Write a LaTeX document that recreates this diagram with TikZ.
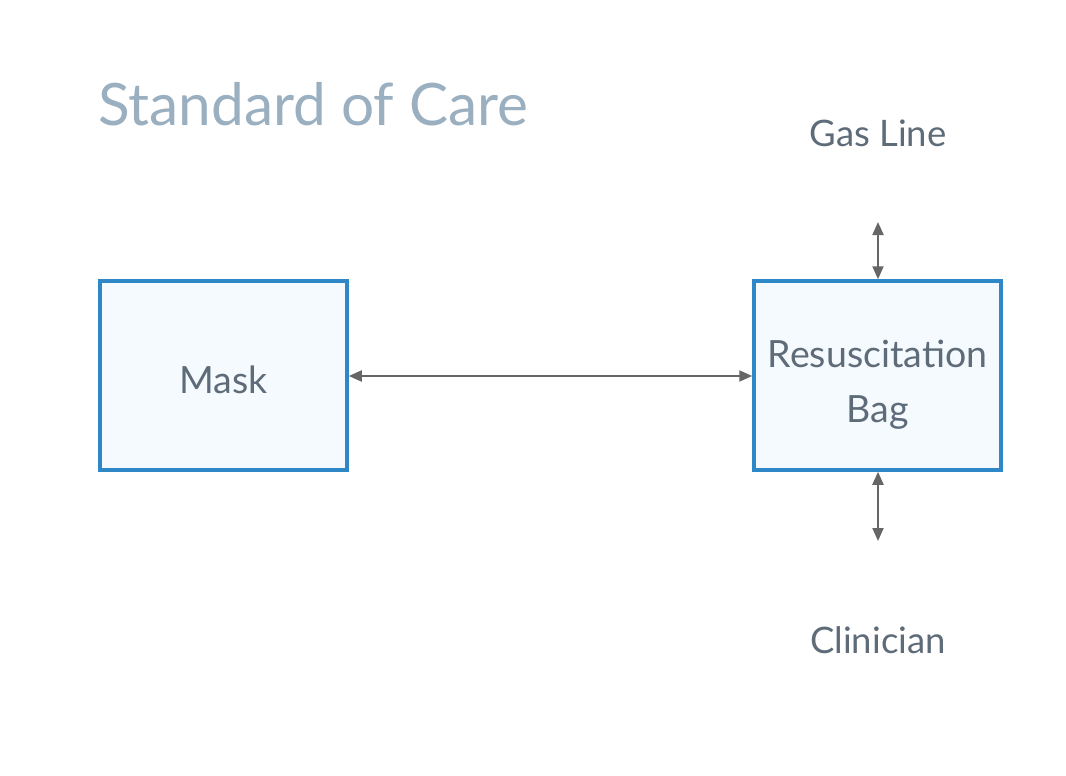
\documentclass[tikz,border=0pt]{standalone}
\usepackage{fontspec}
\setmainfont{Lato}
\usetikzlibrary{arrows.meta}
\definecolor{boxblue}{HTML}{2E88C8}
\definecolor{boxfill}{HTML}{F5FAFF}
\definecolor{txt}{HTML}{5E6B78}
\definecolor{ttl}{HTML}{9AAFC0}
\definecolor{arr}{HTML}{666666}
\tikzset{
  blk/.style={draw=boxblue, line width=3.5pt, fill=boxfill, minimum width=247pt, minimum height=189pt, inner sep=0pt, text=txt, font=\fontsize{37.5}{55}\selectfont, align=center},
  lbl/.style={text=txt, font=\fontsize{36.5}{40}\selectfont, inner sep=0pt},
  conn/.style={draw=arr, line width=2pt, {Triangle[length=13pt,width=11pt]}-{Triangle[length=13pt,width=11pt]}}
}
\begin{document}
\begin{tikzpicture}[x=1pt,y=-1pt]
\useasboundingbox (0,0) rectangle (1066,776);
\node[text=ttl, font=\fontsize{58.5}{66}\selectfont, anchor=base west, inner sep=0pt] (title) at (98,125) {Standard of Care};
\node[blk, text height=36.5pt, text depth=0pt] (mask) at (223.5,375.5) {Mask};
\node[blk] (bag) at (877.5,375.5) {\rule{0pt}{46pt}Resuscitation\\Bag};
\node[lbl] (gas) at (878,133) {Gas Line};
\node[lbl] (clin) at (878,640) {Clinician};
\coordinate (gtop) at (878,222);
\coordinate (cbot) at (878,541);
\draw[conn] (mask.east |- 0,376) -- (bag.west |- 0,376);
\draw[conn] (gtop) -- (bag.north -| gtop);
\draw[conn] (bag.south -| cbot) -- (cbot);
\end{tikzpicture}
\end{document}
